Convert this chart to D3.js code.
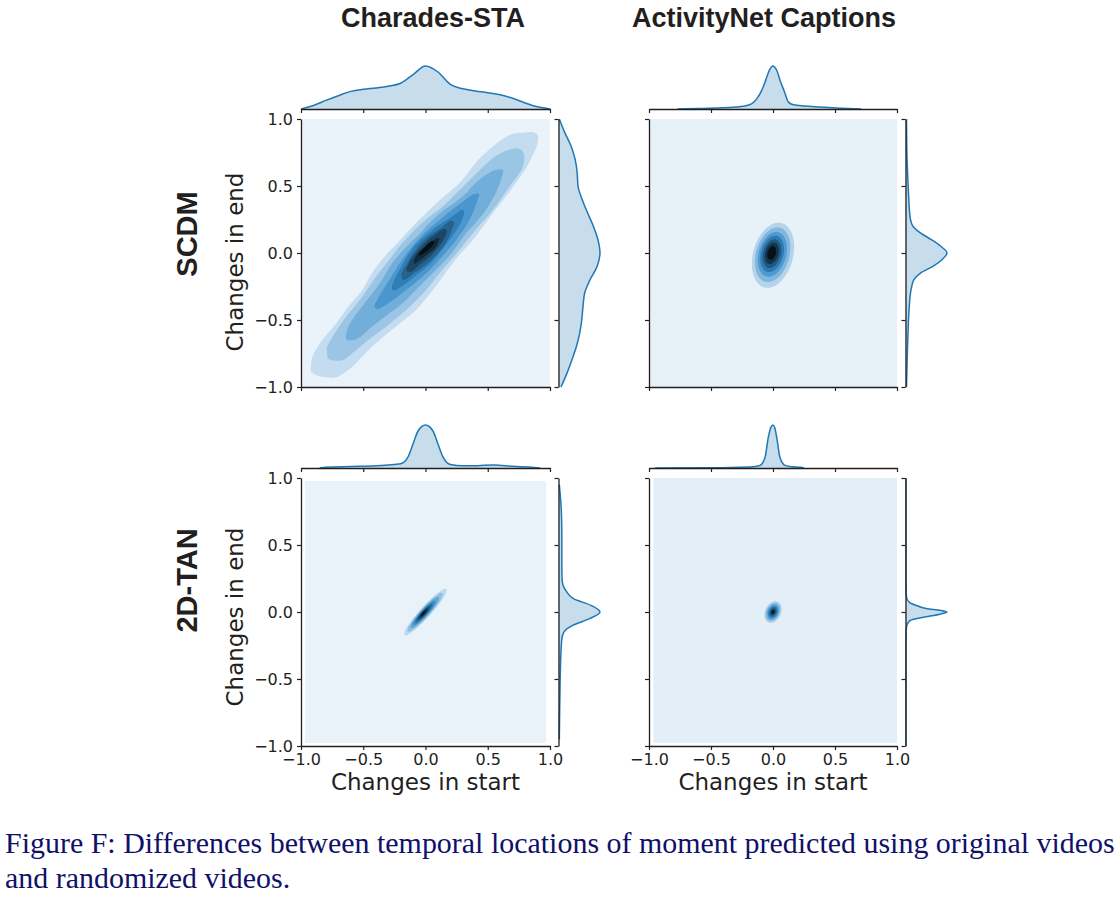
<!DOCTYPE html>
<html><head><meta charset="utf-8">
<script src="https://cdn.jsdelivr.net/npm/d3@7"></script>
<style>body{margin:0;background:#fff;} svg{display:block;}</style>
</head><body><svg id="c" width="1118" height="897"></svg>
<script>
// ---------------- data ----------------
const columnTitles = ["Charades-STA", "ActivityNet Captions"];
const rowTitles = ["SCDM", "2D-TAN"];
const tickValues = [-1, -0.5, 0, 0.5, 1];
const xAxisLabel = "Changes in start";
const yAxisLabel = "Changes in end";
const captionLines = [
  "Figure F: Differences between temporal locations of moment predicted using original videos",
  "and randomized videos."
];

// marginal densities: [change, relative density]
const startDensSCDMCharades = [[-1,0],[-0.9,0.08],[-0.8,0.2],[-0.7,0.31],[-0.6,0.41],[-0.5,0.46],[-0.4,0.49],[-0.3,0.53],[-0.2,0.6],[-0.1,0.8],[0,1],[0.1,0.86],[0.2,0.57],[0.3,0.47],[0.4,0.42],[0.5,0.38],[0.6,0.33],[0.7,0.25],[0.8,0.14],[0.9,0.05],[1,0]];
const endDensSCDMCharades = [[1,0.02],[0.9,0.15],[0.8,0.3],[0.7,0.4],[0.6,0.45],[0.5,0.47],[0.4,0.57],[0.3,0.7],[0.2,0.84],[0.1,0.95],[0,1],[-0.1,0.93],[-0.2,0.76],[-0.3,0.63],[-0.4,0.59],[-0.5,0.56],[-0.6,0.51],[-0.7,0.43],[-0.8,0.32],[-0.9,0.2],[-1,0.06]];
const startDensSCDMActivity = [[-0.77,0],[-0.6,0.012],[-0.45,0.025],[-0.3,0.045],[-0.24,0.063],[-0.17,0.124],[-0.13,0.24],[-0.09,0.44],[-0.06,0.66],[-0.03,0.9],[0,1],[0.03,0.9],[0.06,0.64],[0.09,0.42],[0.125,0.16],[0.165,0.1],[0.25,0.07],[0.38,0.047],[0.55,0.02],[0.71,0]];
const endDensSCDMActivity = [[1,0.024],[0.8,0.03],[0.6,0.05],[0.4,0.08],[0.3,0.1],[0.25,0.12],[0.2,0.18],[0.15,0.36],[0.1,0.62],[0.05,0.85],[0,1],[-0.05,0.88],[-0.1,0.66],[-0.15,0.36],[-0.2,0.2],[-0.25,0.15],[-0.3,0.12],[-0.4,0.09],[-0.6,0.06],[-0.8,0.04],[-1,0.024]];
const startDens2DTANCharades = [[-0.85,0],[-0.8,0.02],[-0.6,0.035],[-0.4,0.05],[-0.3,0.07],[-0.2,0.1],[-0.14,0.26],[-0.1,0.56],[-0.06,0.86],[0,1],[0.06,0.86],[0.1,0.56],[0.14,0.26],[0.2,0.08],[0.3,0.05],[0.42,0.055],[0.55,0.07],[0.7,0.04],[0.85,0.015],[0.92,0]];
const endDens2DTANCharades = [[0.95,0.02],[0.8,0.06],[0.6,0.08],[0.4,0.08],[0.25,0.085],[0.2,0.11],[0.15,0.2],[0.1,0.36],[0.05,0.78],[0,1],[-0.05,0.75],[-0.1,0.34],[-0.15,0.13],[-0.2,0.08],[-0.3,0.06],[-0.5,0.04],[-0.7,0.03],[-0.95,0.02]];
const startDens2DTANActivity = [[-0.95,0],[-0.5,0.003],[-0.185,0.023],[-0.105,0.06],[-0.064,0.25],[-0.038,0.71],[-0.018,0.94],[0,1],[0.015,0.93],[0.03,0.71],[0.056,0.25],[0.097,0.06],[0.15,0.03],[0.22,0.02],[0.25,0]];
const endDens2DTANActivity = [[1,0.01],[0.2,0.01],[0.11,0.025],[0.07,0.1],[0.045,0.3],[0.026,0.5],[0.012,0.85],[0,1],[-0.015,0.85],[-0.036,0.5],[-0.05,0.25],[-0.066,0.1],[-0.11,0.025],[-0.2,0.01],[-1,0.01]];

// joint density contour levels (outer -> inner), [start, end]
const contoursSCDMCharades = [
  [[-0.92,-0.88],[-0.88,-0.91],[-0.78,-0.93],[-0.72,-0.93],[-0.59,-0.85],[-0.43,-0.70],[-0.24,-0.55],[-0.08,-0.43],[0.08,-0.25],[0.24,-0.05],[0.40,0.12],[0.56,0.32],[0.70,0.49],[0.83,0.67],[0.90,0.82],[0.90,0.88],[0.87,0.90],[0.80,0.90],[0.70,0.89],[0.62,0.85],[0.51,0.77],[0.40,0.67],[0.29,0.54],[0.21,0.47],[0.11,0.39],[0.03,0.32],[-0.08,0.22],[-0.21,0.09],[-0.35,-0.05],[-0.43,-0.15],[-0.51,-0.28],[-0.62,-0.40],[-0.72,-0.53],[-0.83,-0.65],[-0.91,-0.78],[-0.92,-0.85]],
  [[-0.79,-0.75],[-0.78,-0.79],[-0.67,-0.80],[-0.59,-0.75],[-0.46,-0.65],[-0.29,-0.53],[-0.16,-0.43],[0,-0.28],[0.13,-0.13],[0.27,0.02],[0.40,0.17],[0.54,0.32],[0.67,0.49],[0.78,0.64],[0.79,0.74],[0.75,0.78],[0.67,0.77],[0.56,0.72],[0.46,0.64],[0.35,0.54],[0.24,0.44],[0.13,0.34],[0.03,0.27],[-0.08,0.18],[-0.19,0.07],[-0.29,-0.05],[-0.40,-0.18],[-0.51,-0.33],[-0.64,-0.48],[-0.75,-0.63],[-0.79,-0.70]],
  [[-0.64,-0.63],[-0.63,-0.65],[-0.55,-0.64],[-0.43,-0.55],[-0.29,-0.45],[-0.19,-0.38],[-0.05,-0.25],[0.08,-0.13],[0.21,0.00],[0.32,0.14],[0.46,0.29],[0.56,0.44],[0.62,0.59],[0.62,0.62],[0.56,0.62],[0.48,0.58],[0.40,0.52],[0.32,0.44],[0.24,0.38],[0.15,0.32],[0.05,0.24],[-0.05,0.14],[-0.16,0.04],[-0.27,-0.08],[-0.37,-0.23],[-0.51,-0.40],[-0.62,-0.55]],
  [[-0.41,-0.40],[-0.39,-0.42],[-0.29,-0.37],[-0.19,-0.30],[-0.08,-0.22],[0.03,-0.13],[0.13,-0.03],[0.24,0.09],[0.35,0.24],[0.42,0.40],[0.43,0.44],[0.39,0.44],[0.31,0.39],[0.21,0.32],[0.13,0.26],[0.04,0.19],[-0.05,0.11],[-0.13,0.02],[-0.21,-0.08],[-0.29,-0.20],[-0.37,-0.32]],
  [[-0.27,-0.27],[-0.25,-0.28],[-0.16,-0.23],[-0.05,-0.15],[0.05,-0.07],[0.13,0.02],[0.21,0.12],[0.28,0.22],[0.31,0.31],[0.29,0.32],[0.24,0.29],[0.16,0.24],[0.08,0.19],[0,0.13],[-0.08,0.06],[-0.15,-0.03],[-0.21,-0.13],[-0.25,-0.20]],
  [[-0.19,-0.19],[-0.17,-0.20],[-0.09,-0.15],[0,-0.09],[0.08,-0.02],[0.16,0.07],[0.21,0.17],[0.23,0.23],[0.20,0.24],[0.13,0.19],[0.05,0.14],[-0.03,0.08],[-0.09,0.01],[-0.15,-0.08],[-0.19,-0.15]],
  [[-0.15,-0.13],[-0.12,-0.14],[-0.05,-0.09],[0.03,-0.03],[0.09,0.03],[0.15,0.11],[0.17,0.17],[0.15,0.18],[0.08,0.14],[0.01,0.09],[-0.05,0.03],[-0.11,-0.04],[-0.14,-0.09]],
  [[-0.09,-0.08],[-0.04,-0.05],[0.03,0],[0.08,0.04],[0.11,0.11],[0.09,0.11],[0.04,0.08],[-0.01,0.04],[-0.06,0],[-0.09,-0.05]],
  [[-0.05,-0.02],[-0.01,0],[0.03,0.03],[0.07,0.08],[0.05,0.09],[0.01,0.06],[-0.03,0.02],[-0.05,0]]
];
// elliptical contour levels: [centre start, centre end, semi-major, semi-minor]
const ellipsesSCDMActivity = [[0,-0.017,0.25,0.16],[-0.003,-0.013,0.21,0.134],[-0.005,-0.01,0.172,0.11],[-0.007,-0.007,0.14,0.09],[-0.008,-0.005,0.11,0.07],[-0.009,-0.003,0.082,0.052],[-0.01,0,0.052,0.033]];
const ellipses2DTANCharades = [[0,0,0.24,0.042],[-0.003,-0.002,0.2,0.036],[-0.006,-0.004,0.16,0.03],[-0.009,-0.006,0.125,0.025],[-0.012,-0.008,0.095,0.02],[-0.014,-0.009,0.07,0.015],[-0.016,-0.01,0.046,0.011],[-0.018,-0.011,0.025,0.007]];
const ellipses2DTANActivity = [[0,0,0.085,0.062],[0,0,0.068,0.05],[0,0,0.053,0.039],[0,0,0.039,0.028],[0,0,0.025,0.018],[0,0,0.012,0.009]];
const ellipseAngles = [72, 45.5, 60]; // degrees: SCDM/Activity, 2D-TAN/Charades, 2D-TAN/Activity
// extent of density grid [[start min,max],[end min,max]]
const gridSCDMCharades = [[-1,1],[-1,1]];
const gridSCDMActivity = [[-1,1],[-1,1]];
const grid2DTANCharades = [[-0.968,0.968],[-0.977,0.977]];
const grid2DTANActivity = [[-0.965,1],[-0.976,1]];
const bandCounts = [10, 8, 9, 7];

// ---------------- layout ----------------
const svg = d3.select("#c");
const ink = "#231f20";
const lineBlue = "#1f77b4";
const colX = [[301,550],[649,897]];
const rowY = [[119,387],[478,746]];
const tickFont = "DejaVu Sans";

const panels = [
  {row:0,col:0,top:startDensSCDMCharades,right:endDensSCDMCharades,polys:contoursSCDMCharades,grid:gridSCDMCharades,bands:bandCounts[0]},
  {row:0,col:1,top:startDensSCDMActivity,right:endDensSCDMActivity,ells:ellipsesSCDMActivity,angle:ellipseAngles[0],grid:gridSCDMActivity,bands:bandCounts[1]},
  {row:1,col:0,top:startDens2DTANCharades,right:endDens2DTANCharades,ells:ellipses2DTANCharades,angle:ellipseAngles[1],grid:grid2DTANCharades,bands:bandCounts[2]},
  {row:1,col:1,top:startDens2DTANActivity,right:endDens2DTANActivity,ells:ellipses2DTANActivity,angle:ellipseAngles[2],grid:grid2DTANActivity,bands:bandCounts[3]}
];

function styleAxis(g, labels) {
  g.select(".domain").attr("stroke", ink).attr("stroke-width", 1.3);
  g.selectAll(".tick line").attr("stroke", ink).attr("stroke-width", 1.2);
  g.selectAll(".tick text").attr("fill", ink).attr("font-family", tickFont).attr("font-size", 16);
  if (!labels) g.selectAll(".tick text").remove();
}

panels.forEach((p, idx) => {
  const [x0, x1] = colX[p.col], [y0, y1] = rowY[p.row];
  const x = d3.scaleLinear().domain([-1, 1]).range([x0, x1]);
  const y = d3.scaleLinear().domain([-1, 1]).range([y1, y0]);
  const color = k => d3.hsl(205, 0.58, 1 - (k + 0.5) / p.bands).formatHex();
  const clipId = "clip" + idx;
  svg.append("clipPath").attr("id", clipId).append("rect")
    .attr("x", x0).attr("y", y0).attr("width", x1 - x0).attr("height", y1 - y0);
  const g = svg.append("g").attr("clip-path", `url(#${clipId})`);
  g.append("rect")
    .attr("x", x(p.grid[0][0])).attr("y", y(p.grid[1][1]))
    .attr("width", x(p.grid[0][1]) - x(p.grid[0][0]))
    .attr("height", y(p.grid[1][0]) - y(p.grid[1][1]))
    .attr("fill", color(0));
  const line = d3.line().x(d => x(d[0])).y(d => y(d[1])).curve(d3.curveCatmullRomClosed.alpha(0.5));
  if (p.polys) {
    p.polys.forEach((poly, i) => g.append("path").attr("d", line(poly)).attr("fill", color(i + 1)));
  }
  if (p.ells) {
    const th = p.angle * Math.PI / 180;
    p.ells.forEach((e, i) => {
      const [cx, cy, a, b] = e;
      const pts = d3.range(72).map(k => {
        const t = 2 * Math.PI * k / 72;
        const ex = a * Math.cos(t), ey = b * Math.sin(t);
        return [cx + ex * Math.cos(th) - ey * Math.sin(th), cy + ex * Math.sin(th) + ey * Math.cos(th)];
      });
      g.append("path").attr("d", line(pts)).attr("fill", color(i + 1));
    });
  }
  // joint axes
  const ax = svg.append("g").attr("transform", `translate(0,${y1})`)
    .call(d3.axisBottom(x).tickValues(tickValues).tickSize(4).tickSizeOuter(0).tickPadding(4).tickFormat(d3.format(".1f")));
  styleAxis(ax, p.row === 1);
  const ay = svg.append("g").attr("transform", `translate(${x0},0)`)
    .call(d3.axisLeft(y).tickValues(tickValues).tickSize(4).tickSizeOuter(0).tickPadding(4).tickFormat(d3.format(".1f")));
  styleAxis(ay, p.col === 0);

  // top marginal
  const base = y0 - 10;
  const h = d3.scaleLinear().domain([0, 1]).range([base, base - 43]);
  const areaT = d3.area().x(d => x(d[0])).y0(base).y1(d => h(d[1])).curve(d3.curveMonotoneX);
  const lineT = d3.line().x(d => x(d[0])).y(d => h(d[1])).curve(d3.curveMonotoneX);
  svg.append("path").attr("d", areaT(p.top)).attr("fill", lineBlue).attr("fill-opacity", 0.25);
  svg.append("path").attr("d", lineT(p.top)).attr("fill", "none").attr("stroke", lineBlue).attr("stroke-width", 1.5);
  const at = svg.append("g").attr("transform", `translate(0,${base})`)
    .call(d3.axisBottom(x).tickValues(tickValues).tickSize(4).tickSizeOuter(0));
  styleAxis(at, false);

  // right marginal
  const sx = x1 + 8.5;
  const w = d3.scaleLinear().domain([0, 1]).range([sx, sx + 41.5]);
  const areaR = d3.area().y(d => y(d[0])).x0(sx).x1(d => w(d[1])).curve(d3.curveMonotoneY);
  const lineR = d3.line().y(d => y(d[0])).x(d => w(d[1])).curve(d3.curveMonotoneY);
  svg.append("path").attr("d", areaR(p.right)).attr("fill", lineBlue).attr("fill-opacity", 0.25);
  svg.append("path").attr("d", lineR(p.right)).attr("fill", "none").attr("stroke", lineBlue).attr("stroke-width", 1.5);
  const ar = svg.append("g").attr("transform", `translate(${sx},0)`)
    .call(d3.axisLeft(y).tickValues(tickValues).tickSize(4).tickSizeOuter(0));
  styleAxis(ar, false);

  // axis labels
  if (p.row === 1) {
    svg.append("text").attr("x", (x0 + x1) / 2).attr("y", 790).attr("text-anchor", "middle")
      .attr("font-family", tickFont).attr("font-size", 23).attr("fill", ink).text(xAxisLabel);
  }
  if (p.col === 0) {
    const cy = p.row === 0 ? 262 : 617;
    svg.append("text").attr("transform", `translate(243,${cy}) rotate(-90)`).attr("text-anchor", "middle")
      .attr("font-family", tickFont).attr("font-size", 23).attr("fill", ink).text(yAxisLabel);
  }
});

// column titles
[433, 764].forEach((cx, i) => {
  svg.append("text").attr("x", cx).attr("y", 27).attr("text-anchor", "middle")
    .attr("font-family", "Liberation Sans, Arial, sans-serif").attr("font-size", 27).attr("font-weight", "bold").attr("fill", ink)
    .text(columnTitles[i]);
});
// row titles
[234, 580.5].forEach((cy, i) => {
  svg.append("text").attr("transform", `translate(197,${cy}) rotate(-90)`).attr("text-anchor", "middle")
    .attr("font-family", "Liberation Sans, Arial, sans-serif").attr("font-weight", "bold").attr("font-size", 29).attr("fill", ink)
    .text(rowTitles[i]);
});
// caption (Times-like, horizontally condensed as in the source)
const cap = svg.append("g").attr("font-family", "Liberation Serif, Times New Roman, serif").attr("fill", "#10106a").attr("font-size", 30);
const l1 = cap.append("text").attr("x", 0).attr("y", 0).text(captionLines[0]);
const len = l1.node().getComputedTextLength();
const sxCap = 1110 / len;
l1.attr("transform", `translate(5,853) scale(${sxCap},1)`);
cap.append("text").attr("transform", `translate(5,888) scale(${sxCap},1)`).text(captionLines[1]);
</script>
</body></html>
